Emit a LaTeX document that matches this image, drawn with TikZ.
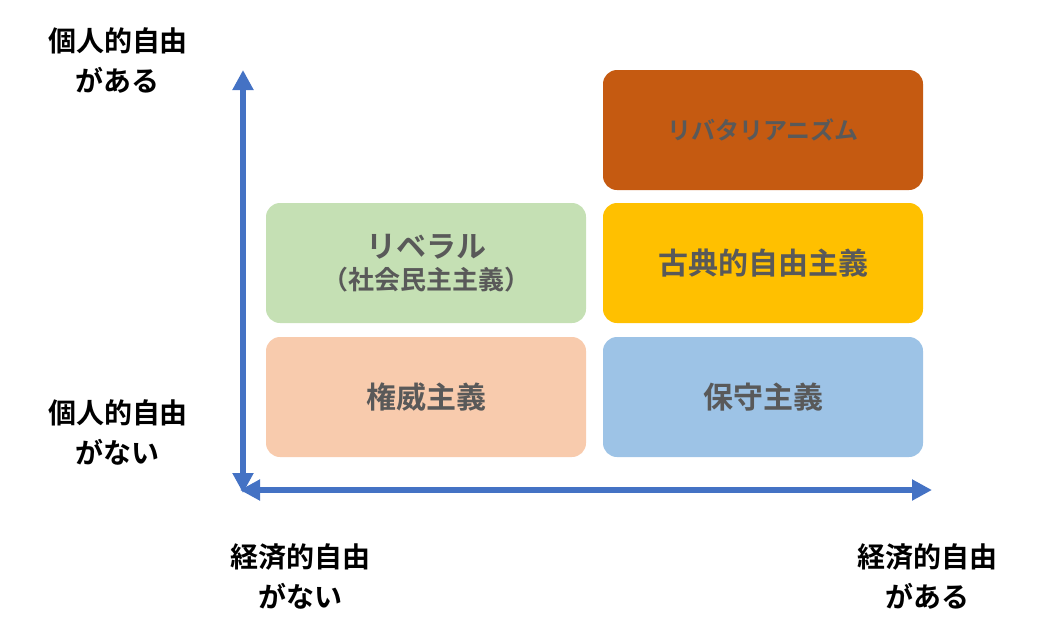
\documentclass[tikz,border=0pt]{standalone}
\usepackage{fontspec}
\setmainfont{Noto Sans CJK JP}[BoldFont={Noto Sans CJK JP Bold}]
\usetikzlibrary{arrows.meta}
\definecolor{axis}{HTML}{4472C4}
\definecolor{txt}{HTML}{595959}
\begin{document}
\begin{tikzpicture}[x=1pt,y=-1pt,
  box/.style={rounded corners=14pt,minimum width=320pt,minimum height=120pt,inner sep=0pt,text=txt,font=\bfseries\fontsize{30}{36}\selectfont,align=center},
  lab/.style={font=\bfseries\fontsize{28}{40}\selectfont,align=center},
  ax/.style={axis,line width=6pt,{Triangle[length=20pt,width=20pt]}-{Triangle[length=20pt,width=20pt]}}]
\useasboundingbox (0,0) rectangle (1050,641);
\node[box,fill={rgb,255:red,197;green,90;blue,17},font=\bfseries\fontsize{24}{30}\selectfont] (lib) at (763,130) {リバタリアニズム};
\node[box,fill={rgb,255:red,255;green,192;blue,0}] (cla) at (763,263) {古典的自由主義};
\node[box,fill={rgb,255:red,197;green,224;blue,180}] (libe) at (426,263) {リベラル\\[-4pt]{\fontsize{26}{30}\selectfont（社会民主主義）}};
\node[box,fill={rgb,255:red,248;green,203;blue,173}] (aut) at (426,397) {権威主義};
\node[box,fill={rgb,255:red,157;green,195;blue,230}] (con) at (763,397) {保守主義};
\coordinate (o) at (243,490);
\coordinate (top) at (243,70);
\coordinate (right) at (932,490);
\draw[ax] (top) -- (243,493);
\draw[ax] (240,490) -- (right);
\node[lab] (ltop) at (118,60) {個人的自由\\がある};
\node[lab] (lbot) at (118,432) {個人的自由\\がない};
\node[lab] (bl) at (300,576) {経済的自由\\がない};
\node[lab] (br) at (927,576) {経済的自由\\がある};
\end{tikzpicture}
\end{document}
